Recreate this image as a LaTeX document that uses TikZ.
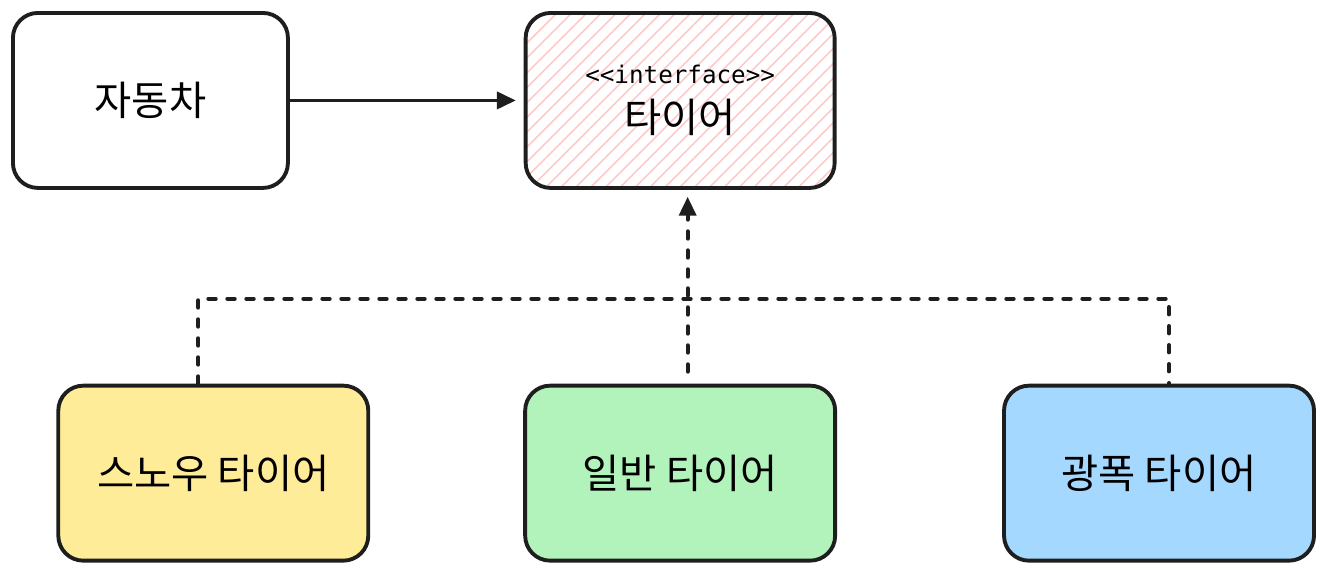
\documentclass[tikz,border=0pt]{standalone}
\usepackage{fontspec}
\setmainfont{Noto Sans CJK KR}
\newfontfamily\codefont{DejaVu Sans Mono}
\usepackage{xcolor}
\usepackage{tikz}
\usetikzlibrary{positioning,arrows.meta,patterns.meta}

\definecolor{ink}{HTML}{1E1E1E}
\definecolor{hatchpink}{HTML}{FFC9C9}
\definecolor{snowyellow}{HTML}{FFEC99}
\definecolor{normalgreen}{HTML}{B2F2BB}
\definecolor{wideblue}{HTML}{A5D8FF}

\begin{document}
\begin{tikzpicture}[
  node distance=3.9cm,
  box/.style={draw=ink, line width=2.2pt, rounded corners=0.5cm, minimum width=6.2cm,
              minimum height=3.5cm, align=center, font=\fontsize{23}{27}\selectfont},
  arrow/.style={-{Triangle[length=0.38cm, width=0.34cm]}, line width=2.2pt, draw=ink},
  dep/.style={draw=ink, line width=2.2pt, dash pattern=on 0.15cm off 0.23cm, line cap=round}
]
  \useasboundingbox (0,0) rectangle (26.46,-11.4);

  % 위쪽 줄
  \node[box, minimum width=5.5cm, minimum height=3.5cm, anchor=north west] (car) at (0.22,-0.22) {자동차};
  \node[box, minimum width=6.18cm, minimum height=3.5cm, right=4.7cm of car,
        pattern={Lines[angle=45, distance=0.21cm, line width=0.9pt]}, pattern color=hatchpink] (tire)
        {{\codefont\fontsize{13.8}{16}\selectfont\textless\textless interface\textgreater\textgreater}\\[1pt]타이어};

  % 구현 타이어
  \node[box, below=3.9cm of tire, fill=normalgreen] (normal) {일반 타이어};
  \node[box, left=3.06cm of normal, fill=snowyellow] (snow) {스노우 타이어};
  \node[box, right=3.3cm of normal, fill=wideblue] (wide) {광폭 타이어};

  \coordinate (bus) at ([yshift=1.7cm]normal.north);
  \coordinate (up) at ([xshift=0.15cm, yshift=0.24cm]normal.north);

  \draw[arrow, shorten >=0.18cm] (car) -- (tire);
  \draw[dep] ([xshift=-0.3cm]snow.north) |- (bus) -| ([xshift=0.2cm]wide.north);
  \draw[dep, arrow, shorten >=0.16cm] (up) -- (up |- tire.south);
\end{tikzpicture}
\end{document}
